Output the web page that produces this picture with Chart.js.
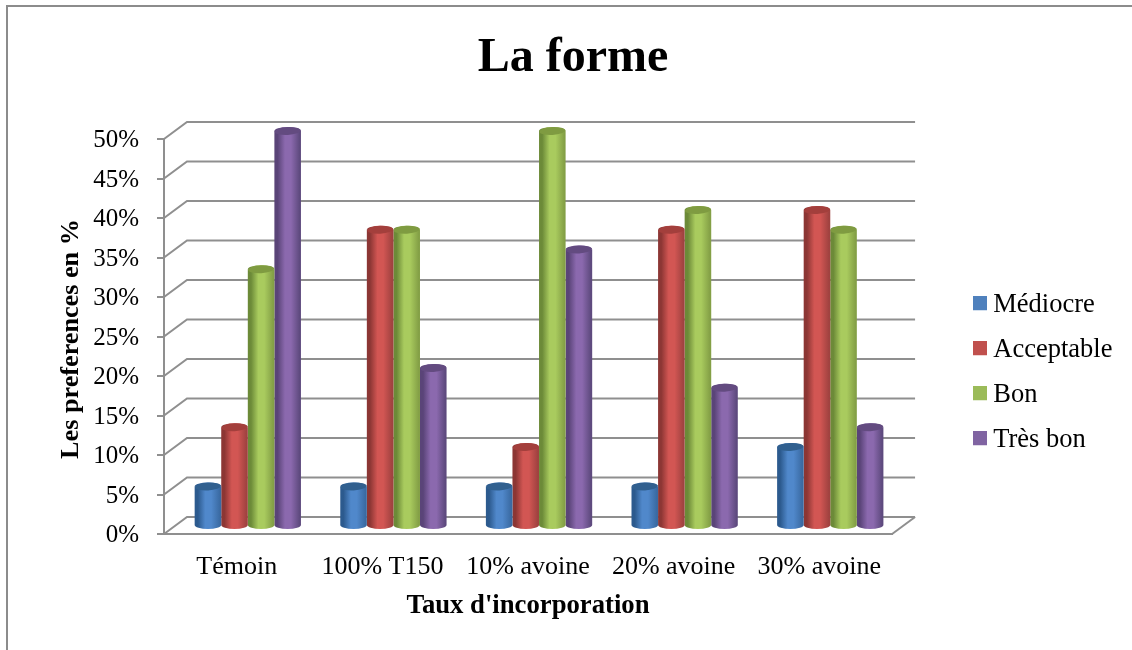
<!DOCTYPE html>
<html>
<head>
<meta charset="utf-8">
<style>html,body{margin:0;padding:0;background:#fff}canvas{display:block}</style>
<script src="https://cdn.jsdelivr.net/npm/chart.js@4"></script>
</head>
<body>
<div style="width:1132px;height:650px"><canvas id="c" width="1132" height="650"></canvas></div>
<script>
const categories = ["Témoin", "100% T150", "10% avoine", "20% avoine", "30% avoine"];
const seriesNames = ["Médiocre", "Acceptable", "Bon", "Très bon"];
const mediocre   = [5, 5, 5, 5, 10];
const acceptable = [12.5, 37.5, 10, 37.5, 40];
const bon        = [32.5, 37.5, 50, 40, 37.5];
const tresBon    = [50, 20, 35, 17.5, 12.5];
const flat  = ["#4f81bd", "#c0504d", "#9bbb59", "#8064a2"];
const sideL = ["#2c5a8e", "#8c3634", "#6c8a38", "#5a4478"];
const mid   = ["#5088cb", "#d25653", "#a9cb5e", "#8b69ae"];
const sideR = ["#3a6aa2", "#a04240", "#84a046", "#5e4a7e"];
const cap   = ["#31608f", "#a33f3c", "#7f9b41", "#634b80"];

const FONT = "'Liberation Serif','Times New Roman',serif";
const DEPTH_X = 23, DEPTH_Y = 17;       // full floor depth
const BAR_DX = 11, BAR_DY = -8;         // bars stand mid-depth
const CAP_RY = 4;
const CAT_PCT = 0.73;

function barGradient(ctx, x0, w, i) {
  const g = ctx.createLinearGradient(x0, 0, x0 + w, 0);
  g.addColorStop(0, sideL[i]);
  g.addColorStop(0.12, sideL[i]);
  g.addColorStop(0.4, mid[i]);
  g.addColorStop(0.62, mid[i]);
  g.addColorStop(0.95, sideR[i]);
  g.addColorStop(1, sideR[i]);
  return g;
}
function barFill(c) {
  const i = c.datasetIndex;
  if (c.dataIndex === undefined || !c.chart.chartArea) return flat[i];
  const s = c.chart.scales.x;
  const w = s.width / categories.length * CAT_PCT / 4;
  const x0 = s.getPixelForValue(c.dataIndex) - 2 * w + i * w;
  return barGradient(c.chart.ctx, x0, w, i);
}
function swatch(i) {
  const k = document.createElement("canvas");
  k.width = 14; k.height = 18;
  const x = k.getContext("2d");
  x.fillStyle = flat[i];
  x.fillRect(0, 0, 14, 14);
  return k;
}
const swatches = flat.map((_, i) => swatch(i));

const scene = {
  id: "scene",
  afterLayout(chart) {
    const l = chart.legend;
    l.left = 980 - l.options.labels.padding;
    l.top = 273.5;
    l.right = 1132;
    const t = chart.titleBlock;
    t.left = 14; t.right = 1132;
    const y = chart.scales.y, ctx = chart.ctx;
    if (!y._shifted) {
      const o = y.drawTitle;
      y.drawTitle = function () { ctx.save(); ctx.translate(0, 2.5); o.call(this); ctx.restore(); };
      y._shifted = true;
    }
  },
  beforeDraw(chart) {
    const ctx = chart.ctx;
    ctx.save();
    ctx.fillStyle = "#fff";
    ctx.fillRect(0, 0, chart.width, chart.height);
    ctx.strokeStyle = "#8c8c8c";
    ctx.lineWidth = 2;
    ctx.beginPath();
    ctx.moveTo(7, 650); ctx.lineTo(7, 6); ctx.lineTo(1132, 6);
    ctx.stroke();
    ctx.restore();
  },
  beforeDatasetsDraw(chart) {
    const ctx = chart.ctx, y = chart.scales.y, x = chart.scales.x;
    ctx.save();
    ctx.strokeStyle = "#8f8f8f";
    ctx.lineWidth = 2;
    y.ticks.forEach((t) => {
      const py = y.getPixelForValue(t.value);
      ctx.beginPath();
      ctx.moveTo(x.left, py);
      ctx.lineTo(x.left + DEPTH_X, py - DEPTH_Y);
      ctx.lineTo(x.right + DEPTH_X, py - DEPTH_Y);
      ctx.stroke();
    });
    const p0 = y.getPixelForValue(0);
    ctx.beginPath();
    ctx.moveTo(x.right, p0);
    ctx.lineTo(x.right + DEPTH_X, p0 - DEPTH_Y);
    ctx.stroke();
    ctx.restore();
  },
  beforeDatasetDraw(chart) {
    const ctx = chart.ctx;
    ctx.save();
    ctx.translate(BAR_DX, BAR_DY);
  },
  afterDatasetDraw(chart, args) {
    const ctx = chart.ctx, i = args.index, meta = args.meta;
    meta.data.forEach((el) => {
      const p = el.getProps(["x", "y", "base", "width"], true);
      const l = p.x - p.width / 2, rx = p.width / 2;
      ctx.fillStyle = barGradient(ctx, l, p.width, i);
      ctx.beginPath();
      ctx.ellipse(p.x, p.base, rx, CAP_RY, 0, 0, Math.PI);
      ctx.fill();
      ctx.fillStyle = barGradient(ctx, l, p.width, i);
      ctx.beginPath();
      ctx.ellipse(p.x, p.y, rx, CAP_RY, 0, Math.PI, 2 * Math.PI);
      ctx.fill();
      ctx.fillStyle = cap[i];
      ctx.beginPath();
      ctx.ellipse(p.x, p.y, rx - 0.3, CAP_RY, -0.05, 0, 2 * Math.PI);
      ctx.fill();
    });
    ctx.restore();
  }
};

new Chart(document.getElementById("c"), {
  type: "bar",
  plugins: [scene],
  data: {
    labels: categories,
    datasets: [mediocre, acceptable, bon, tresBon].map((d, i) => ({
      label: seriesNames[i],
      data: d,
      backgroundColor: barFill,
      borderWidth: 0,
      clip: false,
      barPercentage: 1,
      categoryPercentage: CAT_PCT
    }))
  },
  options: {
    responsive: false,
    animation: false,
    layout: { padding: { right: 79 } },
    plugins: {
      tooltip: { enabled: false },
      title: {
        display: true,
        text: "La forme",
        color: "#000",
        font: { family: FONT, size: 48, weight: "bold", lineHeight: 1 },
        padding: { top: 35, bottom: 56 }
      },
      legend: {
        position: "right",
        align: "start",
        labels: {
          color: "#000",
          font: { family: FONT, size: 26.5, lineHeight: 1.2 },
          padding: 18.5,
          boxWidth: 0.01,
          boxHeight: 14,
          usePointStyle: true,
          generateLabels: (ch) =>
            Chart.defaults.plugins.legend.labels.generateLabels(ch).map((it, i) => ({ ...it, pointStyle: swatches[i] }))
        }
      }
    },
    scales: {
      x: {
        grid: { display: false, drawTicks: false },
        border: { display: true, color: "#8f8f8f", width: 2 },
        ticks: { color: "#000", font: { family: FONT, size: 26 }, padding: 18, maxRotation: 0, autoSkip: false },
        title: {
          display: true,
          text: "Taux d'incorporation",
          color: "#000",
          font: { family: FONT, size: 26.7, weight: "bold", lineHeight: 1.2 },
          padding: { top: 0, bottom: 28 }
        },
        afterFit: (s) => { s.height = 116; }
      },
      y: {
        min: 0,
        max: 50,
        ticks: { stepSize: 5, color: "#000", font: { family: FONT, size: 25 }, padding: 18, labelOffset: 1.5, callback: (v) => v + "%" },
        grid: { drawOnChartArea: false, drawTicks: true, tickLength: 7, color: "#8f8f8f", lineWidth: 2 },
        border: { display: true, color: "#8f8f8f", width: 2 },
        title: {
          display: true,
          text: "Les preferences en %",
          color: "#000",
          font: { family: FONT, size: 26.2, weight: "bold", lineHeight: 1.2 },
          padding: { top: 56, bottom: 0 }
        },
        afterFit: (s) => { s.width = 164; }
      }
    }
  }
});
</script>
</body>
</html>
